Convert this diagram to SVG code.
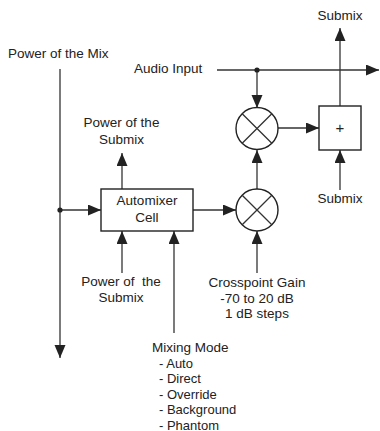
<svg xmlns="http://www.w3.org/2000/svg" width="380" height="431" viewBox="0 0 380 431">
<style>
text{font-family:"Liberation Sans",Arial,sans-serif;font-size:13.5px;fill:#222}
.c{text-anchor:middle}
.it{font-size:13px}
.ln{stroke:#333;stroke-width:1.3;fill:none}
.shape{stroke:#222;stroke-width:1.4;fill:#fff}
</style>
<defs>
<marker id="ar" markerUnits="userSpaceOnUse" markerWidth="14" markerHeight="12" refX="13" refY="5.5" orient="auto">
<path d="M0,0 L13,5.5 L0,11 z" fill="#222"/>
</marker>
</defs>
<g id="connectors">
<line class="ln" x1="60" y1="69" x2="60" y2="358" marker-end="url(#ar)"/>
<line class="ln" x1="217" y1="70" x2="379" y2="70" marker-end="url(#ar)"/>
<line class="ln" x1="257" y1="70" x2="257" y2="108" marker-end="url(#ar)"/>
<line class="ln" x1="278" y1="128" x2="319" y2="128" marker-end="url(#ar)"/>
<line class="ln" x1="340" y1="106" x2="340" y2="28" marker-end="url(#ar)"/>
<line class="ln" x1="340" y1="190" x2="340" y2="150" marker-end="url(#ar)"/>
<line class="ln" x1="257" y1="189" x2="257" y2="150" marker-end="url(#ar)"/>
<line class="ln" x1="60" y1="210" x2="101" y2="210" marker-end="url(#ar)"/>
<line class="ln" x1="193" y1="210" x2="236" y2="210" marker-end="url(#ar)"/>
<line class="ln" x1="122" y1="189" x2="122" y2="153" marker-end="url(#ar)"/>
<line class="ln" x1="122" y1="273" x2="122" y2="231" marker-end="url(#ar)"/>
<line class="ln" x1="174" y1="333" x2="174" y2="231" marker-end="url(#ar)"/>
<line class="ln" x1="257" y1="273" x2="257" y2="231" marker-end="url(#ar)"/>
<circle cx="60" cy="210" r="2.6" fill="#222"/>
<circle cx="257" cy="70" r="2.6" fill="#222"/>
</g>
<g id="mix-power-label">
<text x="8" y="58">Power of the Mix</text>
</g>
<g id="audio-input-label">
<text x="134" y="73">Audio Input</text>
</g>
<g id="submix-top-label">
<text class="c" x="340" y="20">Submix</text>
</g>
<g id="multiplier-top">
<circle class="shape" cx="257" cy="128.5" r="21"/>
<path class="ln" d="M242.2,113.7 L271.8,143.3 M271.8,113.7 L242.2,143.3" stroke-width="1"/>
</g>
<g id="adder">
<rect class="shape" x="319" y="106" width="42" height="44"/>
<text class="c" x="340" y="133" style="font-size:15px">+</text>
</g>
<g id="submix-bottom-label">
<text class="c" x="340" y="203">Submix</text>
</g>
<g id="multiplier-bottom">
<circle class="shape" cx="257" cy="210" r="21"/>
<path class="ln" d="M242.2,195.2 L271.8,224.8 M271.8,195.2 L242.2,224.8" stroke-width="1"/>
</g>
<g id="automixer-cell">
<rect class="shape" x="101" y="189" width="92" height="42"/>
<text class="c" x="147" y="205">Automixer</text>
<text class="c" x="147" y="222">Cell</text>
</g>
<g id="submix-power-out">
<text class="c" x="121.5" y="127">Power of the</text>
<text class="c" x="121.5" y="144">Submix</text>
</g>
<g id="submix-power-in">
<text class="c" x="121" y="286" xml:space="preserve">Power of  the</text>
<text class="c" x="121" y="302">Submix</text>
</g>
<g id="crosspoint-gain">
<text class="c" x="257" y="287">Crosspoint Gain</text>
<text class="c" x="257" y="302.5">-70 to 20 dB</text>
<text class="c" x="257" y="318">1 dB steps</text>
</g>
<g id="mixing-mode">
<text x="152" y="352">Mixing Mode</text>
<text class="it" x="159" y="367.5">- Auto</text>
<text class="it" x="159" y="383">- Direct</text>
<text class="it" x="159" y="398.5">- Override</text>
<text class="it" x="159" y="414">- Background</text>
<text class="it" x="159" y="429.5">- Phantom</text>
</g>
</svg>
